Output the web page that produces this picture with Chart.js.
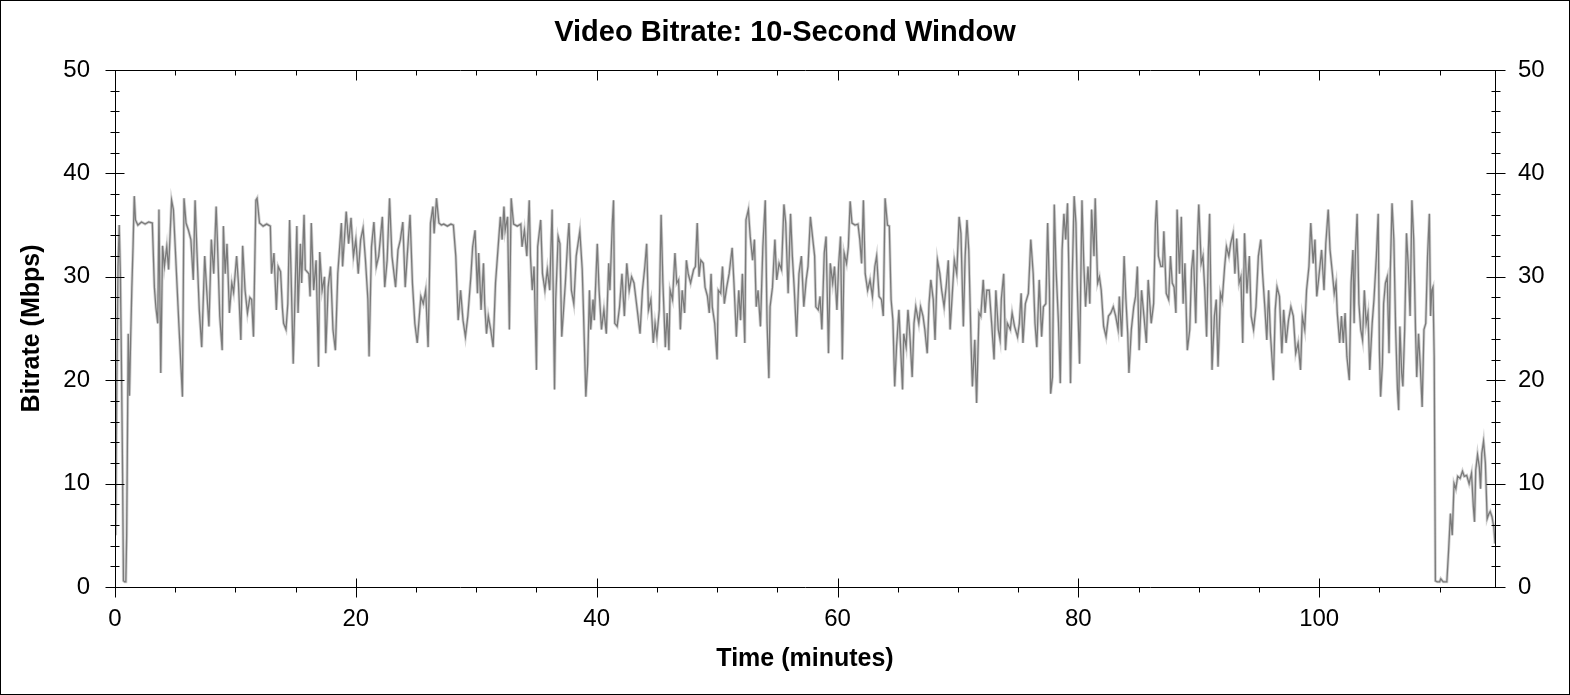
<!DOCTYPE html>
<html>
<head>
<meta charset="utf-8">
<script src="https://cdn.jsdelivr.net/npm/chart.js@4"></script>
<style>
  html, body { margin: 0; padding: 0; background: #fff; }
  canvas { display: block; }
</style>
</head>
<body>
<canvas id="myChart" width="1570" height="695"></canvas>
<script>
// minutes / Mbps
const timeMin = [
  0.05, 0.15, 0.25, 0.35, 0.45, 0.55, 0.63, 0.7, 0.8, 0.9, 0.97, 1.05, 1.1, 1.2, 1.3, 1.4, 1.5, 1.6, 1.7,
  1.9, 2.2, 2.5, 2.8, 3.1, 3.27, 3.4, 3.55, 3.65, 3.8, 3.95, 4.1, 4.3, 4.45, 4.7, 4.85, 5.0, 5.3, 5.6, 5.73,
  5.9, 6.1, 6.3, 6.5, 6.65, 6.8, 7.0, 7.2, 7.45, 7.6, 7.8, 8.0, 8.2, 8.4, 8.5, 8.7, 8.9, 9.0, 9.15, 9.3,
  9.5, 9.7, 9.85, 10.1, 10.25, 10.45, 10.6, 10.8, 11.0, 11.2, 11.35, 11.5, 11.7, 11.8, 12.0, 12.3, 12.6,
  12.9, 13.0, 13.2, 13.4, 13.55, 13.75, 13.9, 14.0, 14.2, 14.35,
  14.5, 14.6, 14.8, 15.1, 15.2, 15.4, 15.5, 15.7, 15.8, 16.1, 16.2, 16.3, 16.5, 16.7, 16.9, 17.0, 17.2,
  17.4, 17.5, 17.7, 17.9, 18.1, 18.3, 18.5, 18.8, 18.9, 19.2, 19.4, 19.6, 19.8, 20.0, 20.2, 20.4, 20.6,
  20.8, 21.0, 21.1, 21.3, 21.5, 21.7, 21.9, 22.2, 22.4, 22.6, 22.8, 23.0, 23.3, 23.5, 23.7, 23.9, 24.1,
  24.3, 24.5, 24.7, 24.9, 25.1, 25.4, 25.6, 25.8, 26.0, 26.2, 26.4, 26.5, 26.7, 26.9, 27.1, 27.3, 27.6,
  27.9, 28.1, 28.3, 28.5, 28.7, 28.9,
  29.1, 29.3, 29.55, 29.7, 29.9, 30.1, 30.2, 30.4, 30.6, 30.7, 30.85, 31.0, 31.2, 31.4, 31.6, 31.8, 32.0,
  32.15, 32.3, 32.4, 32.6, 32.75, 32.9, 33.1, 33.4, 33.7, 33.8, 34.0, 34.2, 34.4, 34.5, 34.65, 34.8, 35.0,
  35.1, 35.35, 35.5, 35.7, 35.9, 36.1, 36.3, 36.5, 36.6, 36.8, 36.95, 37.1, 37.4, 37.6, 37.7, 37.9, 38.1,
  38.3, 38.6, 38.8, 38.9, 39.1, 39.25, 39.4, 39.5, 39.7, 39.8, 40.05, 40.2, 40.4, 40.6, 40.8, 41.0, 41.1,
  41.3, 41.4, 41.5, 41.7, 41.9, 42.1, 42.3, 42.5, 42.7, 42.9, 43.1,
  43.4, 43.6, 43.8, 44.0, 44.15, 44.3, 44.5, 44.7, 44.85, 45.0, 45.2, 45.35, 45.5, 45.7, 45.85, 46.0,
  46.1, 46.3, 46.5, 46.65, 46.8, 46.95, 47.1, 47.3, 47.45, 47.6, 47.8, 48.05, 48.2, 48.35, 48.5, 48.65,
  48.85, 49.0, 49.2, 49.35, 49.5, 49.6, 49.8, 50.0, 50.1, 50.3, 50.45, 50.6, 50.8, 51.0, 51.25, 51.4,
  51.6, 51.8, 51.95, 52.1, 52.3, 52.4, 52.6, 52.75, 52.95, 53.1, 53.25, 53.4, 53.6, 53.8, 54.0, 54.15,
  54.3, 54.4, 54.6, 54.8, 54.95, 55.15, 55.35, 55.55, 55.7, 55.9, 56.1, 56.25, 56.4, 56.6, 56.8, 57.0,
  57.2, 57.4, 57.55, 57.75, 57.95,
  58.1, 58.2, 58.4, 58.55, 58.7, 58.9, 59.05, 59.25, 59.4, 59.6, 59.75, 59.95, 60.1, 60.25, 60.4, 60.55,
  60.75, 60.9, 61.05, 61.2, 61.45, 61.7, 61.85, 62.0, 62.15, 62.3, 62.5, 62.7, 62.9, 63.1, 63.25, 63.45,
  63.65, 63.8, 63.95, 64.15, 64.3, 64.45, 64.6, 64.75, 64.9, 65.1, 65.25, 65.4, 65.5, 65.7, 65.85, 66.0,
  66.2, 66.35, 66.5, 66.75, 66.9, 67.1, 67.25, 67.45, 67.6, 67.75, 67.95, 68.1, 68.3, 68.5, 68.65, 68.85,
  69.05, 69.2, 69.35, 69.55, 69.7, 69.9, 70.1, 70.25, 70.45, 70.6, 70.75, 70.9, 71.1, 71.2, 71.4, 71.55,
  71.75, 71.9, 72.1, 72.25, 72.4,
  72.6, 72.8, 73.0, 73.15, 73.35, 73.5, 73.6, 73.8, 73.95, 74.1, 74.35, 74.5, 74.7, 74.95, 75.1, 75.25,
  75.4, 75.6, 75.85, 76.05, 76.25, 76.4, 76.55, 76.75, 76.95, 77.1, 77.3, 77.45, 77.6, 77.7, 77.85, 78.0,
  78.15, 78.35, 78.5, 78.65, 78.8, 78.95, 79.1, 79.2, 79.35, 79.5, 79.65, 79.8, 79.9, 80.1, 80.3, 80.45,
  80.6, 80.8, 80.95, 81.1, 81.3, 81.4, 81.6, 81.75, 81.9, 82.1, 82.3, 82.5, 82.7, 82.9, 83.1, 83.3, 83.4,
  83.6, 83.8, 83.95, 84.1, 84.2, 84.4, 84.6, 84.75, 84.9, 85.05, 85.25, 85.4, 85.65, 85.8, 86.05, 86.25,
  86.4, 86.5, 86.65, 86.85,
  87.0, 87.1, 87.3, 87.5, 87.65, 87.8, 87.95, 88.1, 88.2, 88.4, 88.55, 88.7, 88.85, 89.05, 89.25, 89.4,
  89.55, 89.75, 89.9, 90.0, 90.2, 90.35, 90.5, 90.65, 90.8, 90.9, 91.1, 91.3, 91.45, 91.6, 91.8, 91.95,
  92.15, 92.3, 92.5, 92.65, 92.85, 93.0, 93.15, 93.35, 93.5, 93.65, 93.8, 94.0, 94.2, 94.35, 94.55, 94.75,
  94.95, 95.15, 95.3, 95.5, 95.65, 95.8, 95.95, 96.2, 96.35, 96.5, 96.7, 96.9, 97.05, 97.25, 97.45, 97.65,
  97.85, 98.05, 98.25, 98.45, 98.6, 98.8, 98.95, 99.15, 99.3, 99.5, 99.65, 99.8, 100.0, 100.2, 100.4,
  100.55, 100.75, 100.9, 101.1, 101.25,
  101.4, 101.5, 101.7, 101.85, 102.0, 102.15, 102.3, 102.5, 102.65, 102.8, 102.9, 103.0, 103.15, 103.3,
  103.45, 103.6, 103.75, 103.9, 104.05, 104.2, 104.4, 104.55, 104.75, 104.9, 105.0, 105.1, 105.25, 105.35,
  105.5, 105.65, 105.8, 105.9, 106.05, 106.2, 106.35, 106.5, 106.6, 106.7, 106.85, 106.95, 107.1, 107.25,
  107.4, 107.55, 107.7, 107.85, 108.0, 108.1, 108.25, 108.4, 108.55, 108.7, 108.85, 109.0, 109.15, 109.25,
  109.35, 109.45, 109.55, 109.65, 109.8, 110.0, 110.1, 110.3, 110.6, 110.75, 110.9, 111.05, 111.2, 111.35,
  111.5, 111.7, 111.9, 112.05, 112.25, 112.45, 112.65, 112.8, 112.9, 113.0, 113.15, 113.3, 113.4, 113.5,
  113.65, 113.8, 113.95, 114.1, 114.2, 114.35, 114.5, 114.6
];
const bitrate = [
  5, 20, 31, 35, 30, 20, 11, 0.6, 0.5, 0.5, 5, 17, 24.5, 18.5, 24, 29, 33, 37.8, 35.5,
  35.0, 35.3, 35.1, 35.3, 35.2, 29, 27, 25.5, 36.5, 20.7, 33, 31, 32.9, 30.7, 37.4, 36.5, 32.9, 25.5, 18.4, 37.6,
  35.2, 34.5, 33.6, 29.7, 37.4, 32.6, 26.8, 23.2, 32, 29, 25.2, 33.6, 30.3, 36.8, 33.6, 26.2, 22.9, 34.9, 30.3, 33.2,
  26.5, 29.4, 28.5, 32, 29.4, 23.9, 33, 28.7, 26.5, 28, 27.8, 24.2, 37.4, 37.6, 35.2, 34.9, 35.1,
  34.9, 30.3, 32.3, 26.8, 31, 30.5, 27, 25.5, 24.9, 27.4,
  35.5, 31.3, 21.6, 34.9, 26.5, 33.2, 29.4, 36, 30.7, 30.3, 28.1, 35.2, 28.7, 31.6, 21.3, 32.4, 28.7,
  30, 22.6, 29, 31, 24.9, 22.9, 30.3, 35.2, 31, 36.3, 33.2, 35.7, 32, 33.6, 30.3, 33.6, 34.7,
  31.6, 27.8, 22.3, 32.9, 35.3, 31, 32, 35.8, 29, 31.6, 37.6, 32, 29, 32.6, 33.6, 35.3, 29,
  32.6, 36, 29.4, 25.5, 23.6, 28.1, 27.4, 28.7, 23.2, 35.2, 36.8, 34.2, 37.6, 35.2, 35.0, 35.1, 34.9,
  35.1, 35.0, 32, 25.8, 28.7, 25.8,
  24.2, 26.2, 30, 32.9, 34.5, 28.4, 32.3, 26.8, 31.3, 27.4, 24.5, 26.2, 24.9, 23.2, 29.4, 32.6, 35.8,
  33.6, 36.8, 34.5, 35.8, 24.9, 37.6, 35.1, 34.9, 35.1, 32.9, 34.5, 32, 37.4, 32, 28.7, 31, 21,
  32.9, 35.5, 30.3, 28.7, 30.7, 28.7, 36.5, 19.1, 27.8, 33.9, 33.2, 24.2, 29.4, 33.6, 35.2, 28.7, 27.4,
  32, 34.4, 30.7, 26.8, 18.4, 21.6, 28.7, 24.9, 27.8, 25.8, 33.2, 28.7, 24.9, 26.8, 24.5, 31.3, 28.7,
  35.2, 37.4, 25.5, 25.2, 27.1, 30.3, 26.2, 31.3, 28.7, 30, 29.4,
  26.5, 24.5, 28.7, 31, 33.2, 26.8, 27.8, 23.6, 25.5, 24.2, 26.8, 36, 29.4, 23.2, 26.5, 22.9,
  28.7, 27.8, 32.3, 29.4, 29.7, 24.9, 28.7, 26.5, 31.6, 30.3, 29.4, 30.7, 31, 35.2, 30, 31.6,
  31.3, 29, 28.1, 26.5, 30.3, 27.1, 25.5, 22, 28.7, 28.4, 31, 27.4, 29, 30.3, 32.8, 29.4,
  24.2, 28.7, 25.8, 30.3, 23.6, 35.5, 36.5, 33.9, 31.6, 33.6, 27.1, 28.7, 25.2, 32.9, 37.4, 25.5,
  20.2, 27.1, 29, 33.6, 29.7, 31.3, 30.7, 37, 35.2, 28.4, 36.1, 32, 29, 24.2, 30.3, 32,
  27.1, 29.7, 31, 35.8, 33.6,
  32, 27.1, 26.8, 28.1, 24.9, 32.3, 33.9, 22.6, 31.3, 29.4, 31, 26.8, 31.3, 33.9, 22, 32.3,
  31.3, 32.9, 37.3, 35.2, 35.0, 35.1, 33.6, 31.3, 37.4, 30.3, 28.7, 29.7, 28.1, 31, 32, 28.1,
  27.8, 26.2, 37.6, 35, 34.9, 27.8, 25.8, 19.4, 23.2, 26.8, 22.9, 19.1, 24.5, 23.2, 26.8, 24.5,
  20.3, 25.5, 27.1, 25.5, 27.1, 26.2, 24.9, 22.6, 27.4, 29.7, 27.8, 23.9, 31.6, 30.3, 28.7, 27.1,
  29.4, 31.6, 24.9, 28.7, 31.6, 30.3, 35.8, 34.2, 25.2, 32, 35.5, 32.6, 23.2, 19.4, 23.9, 17.8,
  26.5, 26.2, 29.7, 26.5, 28.7,
  28.7, 25.5, 22, 28.7, 24.9, 23.9, 27.8, 30.3, 22.9, 25.5, 24.9, 26.5, 25.2, 24.2, 25.5, 28.4,
  23.6, 27.4, 28.4, 33.6, 30.3, 25.5, 23.2, 29.7, 24.2, 27.1, 27.4, 35.2, 28.7, 18.7, 20.3, 37,
  30.7, 25.5, 19.7, 32.6, 36.1, 33.6, 37.1, 31.3, 19.7, 30.3, 37.8, 35.2, 29.4, 21.6, 37.4, 31.3,
  27.1, 31, 27.4, 36.5, 32, 37.6, 29.4, 30, 28.7, 25.2, 24.2, 26.2, 26.5, 27.1, 26.2, 24.9, 28.1,
  24.2, 32, 27.8, 24.5, 20.7, 24.9, 27.1, 28.1, 31, 22.9, 28.7, 26.8, 23.6, 29.7, 25.5, 27.4,
  35.2, 37.4, 32, 31,
  31, 34.4, 28.4, 27.8, 32, 29.4, 29, 26.5, 36.5, 30.3, 35.8, 27.4, 31.3, 22.9, 24.9, 30.7,
  32.6, 25.5, 33.9, 37, 31.3, 32, 28.7, 24.2, 32.6, 36.1, 21, 26.2, 27.8, 21.3, 28.4, 27.8,
  31, 32.9, 32, 33.2, 34.2, 30.3, 33.7, 29.4, 30, 23.6, 34.2, 28.4, 32, 26.2, 24.9, 27.1,
  32, 33.6, 30.3, 26.8, 23.9, 28.7, 24.5, 20, 26.8, 29, 28.1, 22.6, 26.8, 23.6, 25.8, 27.1,
  26.2, 22.6, 23.6, 21, 26.2, 24.9, 28.7, 31, 35.2, 31.3, 33.6, 28.1, 30.3, 32.6, 28.7,
  33.2, 36.5, 32.6, 30.3, 28.4,
  29.4, 26.5, 23.6, 26.2, 23.6, 26.5, 22.3, 20, 29.4, 32.6, 25.5, 32, 36.1, 27.4,
  24.9, 23.9, 28.7, 25.5, 26.5, 21, 25.5, 27.8, 32, 36.1, 22.9, 18.4, 21.6, 27.4,
  29.4, 30, 22.6, 30.3, 37.1, 33.6, 24.9, 19.1, 17.1, 25.2, 20.7, 19.4, 24.9, 34.2,
  31, 26.2, 37.4, 33.6, 24.9, 20.3, 24.5, 21.3, 17.4, 24.9, 25.5, 32, 36.1, 26.2,
  28.7, 29, 22.3, 0.6, 0.5, 0.5, 0.8, 0.5, 0.5, 3.6, 7.1, 5, 10, 9.5,
  10.7, 10.5, 11.2, 10.7, 10.8, 10, 11, 7.8, 6.3, 11.3, 12.8, 11.6, 9.5, 12.9,
  14.1, 12, 6.6, 7.1, 7.3, 6.8, 5.8, 4.2
];
const xTickLabels = [0, 20, 40, 60, 80, 100];
const yTickLabels = [0, 10, 20, 30, 40, 50];

const points = timeMin.map((t, i) => ({ x: t, y: bitrate[i] }));

Chart.defaults.font.family = 'Arial, "Liberation Sans", sans-serif';
Chart.defaults.color = '#000';

// box round the plot, tick marks, outer frame
const frameTicks = {
    id: 'frameTicks',
    afterDraw(chart) {
        const { ctx, chartArea: a, scales } = chart;
        const L = Math.round(a.left) + 0.5, R = Math.round(a.right) + 0.5;
        const T = Math.round(a.top) + 0.5, B = Math.round(a.bottom) + 0.5;
        ctx.save();
        ctx.strokeStyle = '#000';
        ctx.lineWidth = 1;
        ctx.beginPath();
        ctx.rect(L, T, R - L, B - T);
        for (let v = 0; v <= 50; v += 2) {
            const y = Math.round(scales.y.getPixelForValue(v)) + 0.5;
            const major = v % 10 === 0;
            const o = major ? 10 : 5, i = major ? 9 : 4;
            ctx.moveTo(L - o, y); ctx.lineTo(L + i, y);
            ctx.moveTo(R - i, y); ctx.lineTo(R + o, y);
        }
        for (let v = 0; v <= 110; v += 5) {
            const x = Math.round(scales.x.getPixelForValue(v)) + 0.5;
            const major = v % 20 === 0;
            const len = major ? 10 : 5;
            ctx.moveTo(x, B - (major ? 9 : 0)); ctx.lineTo(x, B + len);
            ctx.moveTo(x, T); ctx.lineTo(x, T + len);
        }
        ctx.stroke();
        ctx.strokeRect(0.5, 0.5, chart.width - 1, chart.height - 1);
        ctx.restore();
    }
};

var ctx = document.getElementById('myChart');

var myChart = new Chart(ctx, {
    type: 'line',
    data: {
        datasets: [
            {
                label: 'Bitrate',
                data: points,
                borderColor: '#7a7a7a',
                borderWidth: 1.3,
                pointRadius: 0,
                tension: 0
            },
            {
                label: 'Range',
                data: points,
                borderColor: '#d2d2d2',
                borderWidth: 3,
                pointRadius: 0,
                tension: 0
            }
        ]
    },
    options: {
        responsive: false,
        devicePixelRatio: 1,
        animation: false,
        layout: { padding: 0 },
        plugins: {
            legend: { display: false },
            tooltip: { enabled: false },
            title: {
                display: true,
                text: 'Video Bitrate: 10-Second Window',
                font: { size: 29, weight: 'bold' },
                padding: { top: 15.1, bottom: 20.1 }
            }
        },
        scales: {
            x: {
                type: 'linear',
                position: 'bottom',
                min: 0,
                max: 114.6,
                afterFit(s) { s.height = 108; },
                afterBuildTicks(s) { s.ticks = xTickLabels.map(v => ({ value: v })); },
                ticks: { font: { size: 24 }, padding: 18, maxRotation: 0 },
                grid: { display: false, drawTicks: false },
                border: { display: false },
                title: {
                    display: true,
                    text: 'Time (minutes)',
                    font: { size: 25, weight: 'bold' },
                    padding: { top: 0, bottom: 21 }
                }
            },
            y: {
                position: 'left',
                min: 0,
                max: 50,
                afterFit(s) { s.width = 115; },
                afterBuildTicks(s) { s.ticks = yTickLabels.map(v => ({ value: v })); },
                ticks: { font: { size: 24 }, padding: 25 },
                grid: { display: false, drawTicks: false },
                border: { display: false },
                title: {
                    display: true,
                    text: 'Bitrate (Mbps)',
                    font: { size: 25, weight: 'bold' },
                    padding: { top: 17, bottom: 0 }
                }
            },
            y2: {
                position: 'right',
                min: 0,
                max: 50,
                afterFit(s) { s.width = 75; },
                afterBuildTicks(s) { s.ticks = yTickLabels.map(v => ({ value: v })); },
                ticks: { font: { size: 24 }, padding: 23 },
                grid: { display: false, drawTicks: false },
                border: { display: false }
            }
        }
    },
    plugins: [frameTicks]
});
</script>
</body>
</html>
